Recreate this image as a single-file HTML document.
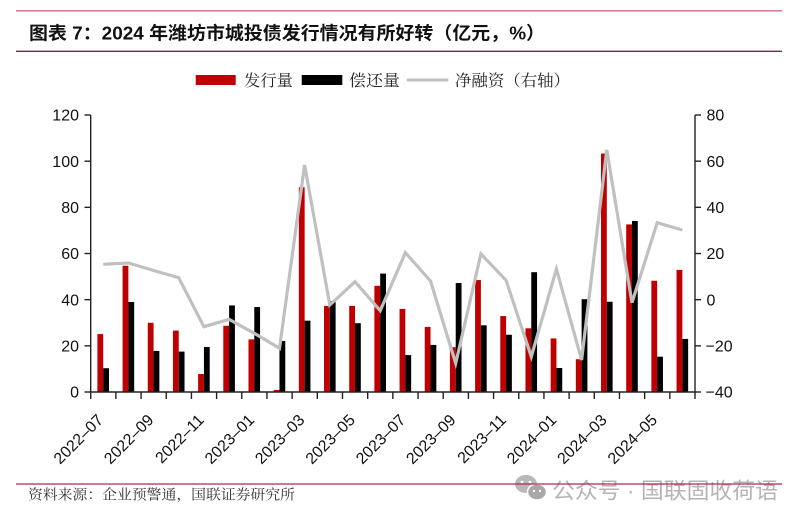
<!DOCTYPE html>
<html><head><meta charset="utf-8"><style>
html,body{margin:0;padding:0;background:#fff;}
svg{display:block;}
</style></head><body>
<svg width="804" height="522" viewBox="0 0 804 522" xmlns="http://www.w3.org/2000/svg">
<rect width="804" height="522" fill="#fff"/>
<!-- header rules -->
<line x1="16" y1="10.8" x2="782" y2="10.8" stroke="#d4668a" stroke-width="1.3"/>
<line x1="16" y1="51.3" x2="782" y2="51.3" stroke="#8e1c4e" stroke-width="1.3"/>
<text x="29" y="39.5" font-family="'Liberation Sans','Noto Sans CJK SC',sans-serif" font-weight="bold" font-size="18" fill="#111" textLength="516" lengthAdjust="spacingAndGlyphs">图表 7：2024 年潍坊市城投债发行情况有所好转（亿元，%）</text>

<!-- legend -->
<rect x="195.7" y="75" width="40" height="10" fill="#c00000"/>
<text x="244" y="86" font-family="'Liberation Serif','Noto Serif CJK SC',serif" font-size="16" fill="#222" textLength="49" lengthAdjust="spacingAndGlyphs">发行量</text>
<rect x="301.7" y="75" width="40.6" height="10" fill="#000"/>
<text x="349" y="86" font-family="'Liberation Serif','Noto Serif CJK SC',serif" font-size="16" fill="#222" textLength="51" lengthAdjust="spacingAndGlyphs">偿还量</text>
<line x1="406.7" y1="80" x2="448.3" y2="80" stroke="#c0c0c0" stroke-width="3"/>
<text x="455" y="86" font-family="'Liberation Serif','Noto Serif CJK SC',serif" font-size="16" fill="#222" textLength="115" lengthAdjust="spacingAndGlyphs">净融资（右轴）</text>

<!-- red bars -->
<g fill="#c00000">
<rect x="97.40" y="334.06" width="5.8" height="57.94"/>
<rect x="122.58" y="265.74" width="5.8" height="126.26"/>
<rect x="147.76" y="322.75" width="5.8" height="69.25"/>
<rect x="172.94" y="330.60" width="5.8" height="61.40"/>
<rect x="198.12" y="374.00" width="5.8" height="18.00"/>
<rect x="223.30" y="325.75" width="5.8" height="66.25"/>
<rect x="248.48" y="339.37" width="5.8" height="52.63"/>
<rect x="273.66" y="389.92" width="5.8" height="2.08"/>
<rect x="298.84" y="187.25" width="5.8" height="204.75"/>
<rect x="324.02" y="305.90" width="5.8" height="86.10"/>
<rect x="349.20" y="305.90" width="5.8" height="86.10"/>
<rect x="374.38" y="285.82" width="5.8" height="106.18"/>
<rect x="399.56" y="308.90" width="5.8" height="83.10"/>
<rect x="424.74" y="326.91" width="5.8" height="65.09"/>
<rect x="449.92" y="347.22" width="5.8" height="44.78"/>
<rect x="475.10" y="280.05" width="5.8" height="111.95"/>
<rect x="500.28" y="316.06" width="5.8" height="75.94"/>
<rect x="525.46" y="328.29" width="5.8" height="63.71"/>
<rect x="550.64" y="338.45" width="5.8" height="53.55"/>
<rect x="575.82" y="359.22" width="5.8" height="32.78"/>
<rect x="601.00" y="153.55" width="5.8" height="238.45"/>
<rect x="626.18" y="224.42" width="5.8" height="167.58"/>
<rect x="651.36" y="280.74" width="5.8" height="111.26"/>
<rect x="676.54" y="269.89" width="5.8" height="122.11"/>
</g>
<!-- black bars -->
<g fill="#000">
<rect x="103.20" y="368.22" width="5.8" height="23.78"/>
<rect x="128.38" y="301.98" width="5.8" height="90.02"/>
<rect x="153.56" y="350.91" width="5.8" height="41.09"/>
<rect x="178.74" y="351.60" width="5.8" height="40.40"/>
<rect x="203.92" y="346.99" width="5.8" height="45.01"/>
<rect x="229.10" y="305.44" width="5.8" height="86.56"/>
<rect x="254.28" y="307.05" width="5.8" height="84.95"/>
<rect x="279.46" y="340.99" width="5.8" height="51.01"/>
<rect x="304.64" y="320.67" width="5.8" height="71.33"/>
<rect x="329.82" y="301.05" width="5.8" height="90.95"/>
<rect x="355.00" y="323.21" width="5.8" height="68.79"/>
<rect x="380.18" y="273.58" width="5.8" height="118.42"/>
<rect x="405.36" y="355.07" width="5.8" height="36.93"/>
<rect x="430.54" y="344.91" width="5.8" height="47.09"/>
<rect x="455.72" y="283.05" width="5.8" height="108.95"/>
<rect x="480.90" y="325.29" width="5.8" height="66.71"/>
<rect x="506.08" y="334.75" width="5.8" height="57.25"/>
<rect x="531.26" y="272.20" width="5.8" height="119.80"/>
<rect x="556.44" y="367.99" width="5.8" height="24.01"/>
<rect x="581.62" y="299.21" width="5.8" height="92.79"/>
<rect x="606.80" y="301.75" width="5.8" height="90.25"/>
<rect x="631.98" y="220.96" width="5.8" height="171.04"/>
<rect x="657.16" y="356.68" width="5.8" height="35.32"/>
<rect x="682.34" y="338.91" width="5.8" height="53.09"/>
</g>

<!-- net financing line -->
<polyline fill="none" stroke="#c0c0c0" stroke-width="3.2" stroke-linejoin="miter" points="103.2,264.3 128.4,263 153.6,270.5 178.7,277.7 203.9,326.7 229.1,319.3 254.3,333.3 279.5,348.3 304.6,165 329.8,305 355,281.7 380.2,310.7 405.4,252.7 430.5,281 455.7,363.3 480.9,254 506.1,280.3 531.3,356.7 556.4,269 581.6,360 606.8,150 632,302.7 657.2,222.7 682.3,230"/>

<!-- axes -->
<g stroke="#222" stroke-width="1.4" fill="none">
<line x1="90.7" y1="115" x2="90.7" y2="392"/>
<line x1="695" y1="115" x2="695" y2="392"/>
<line x1="90.7" y1="392" x2="695" y2="392"/>
<!-- left ticks -->
<line x1="84.5" y1="392" x2="90.7" y2="392"/>
<line x1="84.5" y1="345.83" x2="90.7" y2="345.83"/>
<line x1="84.5" y1="299.67" x2="90.7" y2="299.67"/>
<line x1="84.5" y1="253.5" x2="90.7" y2="253.5"/>
<line x1="84.5" y1="207.33" x2="90.7" y2="207.33"/>
<line x1="84.5" y1="161.17" x2="90.7" y2="161.17"/>
<line x1="84.5" y1="115" x2="90.7" y2="115"/>
<!-- right ticks -->
<line x1="695" y1="392" x2="701" y2="392"/>
<line x1="695" y1="345.83" x2="701" y2="345.83"/>
<line x1="695" y1="299.67" x2="701" y2="299.67"/>
<line x1="695" y1="253.5" x2="701" y2="253.5"/>
<line x1="695" y1="207.33" x2="701" y2="207.33"/>
<line x1="695" y1="161.17" x2="701" y2="161.17"/>
<line x1="695" y1="115" x2="701" y2="115"/>
<!-- bottom ticks -->
<path d="M90.7 392V399M115.88 392V399M141.06 392V399M166.24 392V399M191.42 392V399M216.6 392V399M241.78 392V399M266.96 392V399M292.14 392V399M317.32 392V399M342.5 392V399M367.68 392V399M392.86 392V399M418.04 392V399M443.22 392V399M468.4 392V399M493.58 392V399M518.76 392V399M543.94 392V399M569.12 392V399M594.3 392V399M619.48 392V399M644.66 392V399M669.84 392V399M695 392V399"/>
</g>

<!-- left labels -->
<g font-family="'Liberation Sans',sans-serif" font-size="16" fill="#111" text-anchor="end">
<text x="79" y="397.7">0</text>
<text x="79" y="351.5">20</text>
<text x="79" y="305.4">40</text>
<text x="79" y="259.2">60</text>
<text x="79" y="213">80</text>
<text x="79" y="166.9">100</text>
<text x="79" y="120.7">120</text>
</g>
<!-- right labels -->
<g font-family="'Liberation Sans',sans-serif" font-size="16" fill="#111" text-anchor="start">
<text x="705.5" y="397.7">−40</text>
<text x="705.5" y="351.5">−20</text>
<text x="706.5" y="305.4">0</text>
<text x="706.5" y="259.2">20</text>
<text x="706.5" y="213">40</text>
<text x="706.5" y="166.9">60</text>
<text x="706.5" y="120.7">80</text>
</g>

<!-- x labels -->
<g font-family="'Liberation Sans',sans-serif" font-size="16" fill="#111" text-anchor="end">
<text transform="translate(104.2,421) rotate(-45)">2022–07</text>
<text transform="translate(154.6,421) rotate(-45)">2022–09</text>
<text transform="translate(204.9,421) rotate(-45)">2022–11</text>
<text transform="translate(255.3,421) rotate(-45)">2023–01</text>
<text transform="translate(305.6,421) rotate(-45)">2023–03</text>
<text transform="translate(356,421) rotate(-45)">2023–05</text>
<text transform="translate(406.4,421) rotate(-45)">2023–07</text>
<text transform="translate(456.7,421) rotate(-45)">2023–09</text>
<text transform="translate(507.1,421) rotate(-45)">2023–11</text>
<text transform="translate(557.4,421) rotate(-45)">2024–01</text>
<text transform="translate(607.8,421) rotate(-45)">2024–03</text>
<text transform="translate(658.2,421) rotate(-45)">2024–05</text>
</g>

<!-- watermark -->
<g fill="#b8b8b8">
<ellipse cx="526" cy="484" rx="11" ry="9"/>
<ellipse cx="537" cy="492" rx="9.5" ry="8" fill="#a8a8a8" stroke="#fff" stroke-width="1.5"/>
<circle cx="522" cy="482" r="1.4" fill="#fff"/>
<circle cx="530" cy="482" r="1.4" fill="#fff"/>
<circle cx="534" cy="491" r="1.2" fill="#fff"/>
<circle cx="540" cy="491" r="1.2" fill="#fff"/>
</g>
<text x="552" y="498.5" font-family="'Liberation Sans','Noto Sans CJK SC',sans-serif" font-size="22" fill="#b4b4b4" textLength="226" lengthAdjust="spacingAndGlyphs">公众号 · 国联固收荷语</text>

<!-- footer -->
<line x1="16" y1="484" x2="782" y2="484" stroke="#b3245c" stroke-width="1.2"/>
<text x="28" y="499.5" font-family="'Liberation Serif','Noto Serif CJK SC',serif" font-size="14" fill="#333" textLength="267" lengthAdjust="spacingAndGlyphs">资料来源：企业预警通，国联证券研究所</text>
</svg>
</body></html>
